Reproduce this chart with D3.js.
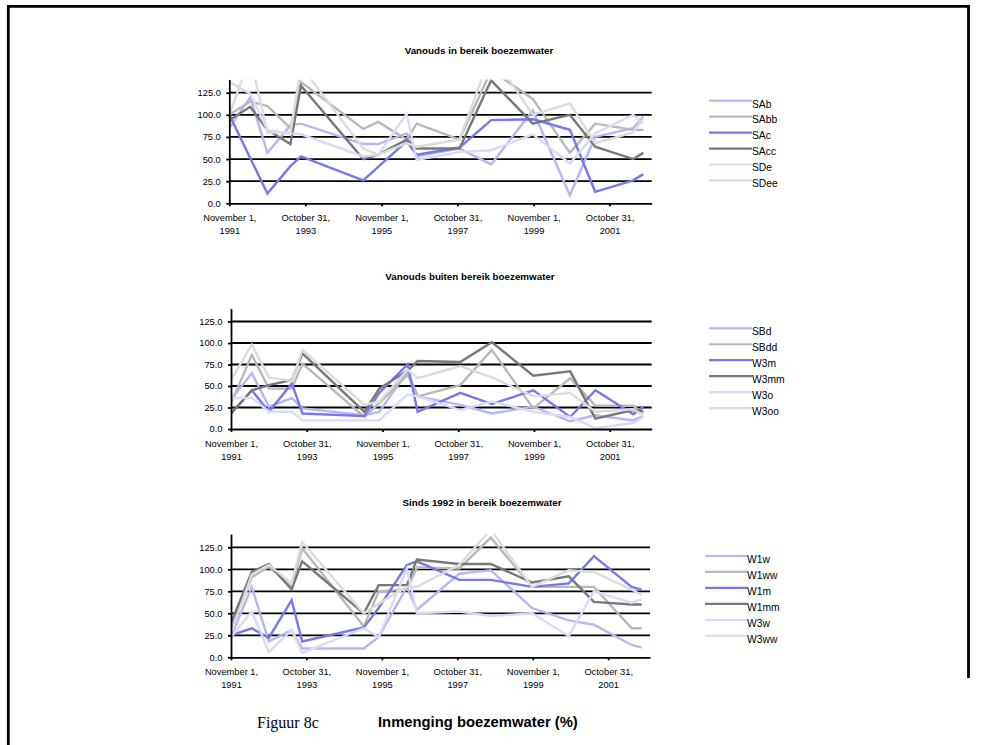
<!DOCTYPE html>
<html>
<head>
<meta charset="utf-8">
<script src="https://cdn.jsdelivr.net/npm/d3@7"></script>
<style>
  html, body { margin: 0; padding: 0; background: #fff; }
  svg { display: block; }
</style>
</head>
<body>
<svg id="chart" width="984" height="745"></svg>
<script>
// Sampling dates shared by every series (Excel date axis)
const dates = ["1991-11-01","1992-05-20","1992-11-01","1993-06-10","1993-09-20","1995-05-10","1995-10-01","1996-06-30","1996-10-05","1997-11-20","1998-09-20","1999-10-25","2000-10-15","2001-06-15","2002-06-15","2002-09-20"];

// Axis ticks
const yTicks = [0, 25, 50, 75, 100, 125];
const tickDates = ["1991-11-01","1993-10-31","1995-11-01","1997-10-31","1999-11-01","2001-10-31"];
const tickLabels = [["November 1,","1991"],["October 31,","1993"],["November 1,","1995"],["October 31,","1997"],["November 1,","1999"],["October 31,","2001"]];

// Panel titles
const titles = ["Vanouds in bereik boezemwater", "Vanouds buiten bereik boezemwater", "Sinds 1992 in bereik boezemwater"];

// Series names per panel
const names1 = ["SAb","SAbb","SAc","SAcc","SDe","SDee"];
const names2 = ["SBd","SBdd","W3m","W3mm","W3o","W3oo"];
const names3 = ["W1w","W1ww","W1m","W1mm","W3w","W3ww"];

// Panel 1: Vanouds in bereik boezemwater (%)
const SAb  = [85, 120, 57, 88, 90, 67, 67, 79, 53, 62, 44, 105, 9, 75, 85, 98];
const SAbb = [100, 115, 110, 85, 137, 84, 92, 72, 90, 72, 150, 118, 57, 90, 83, 83];
const SAc  = [100, null, 11, 42, 53, 26, null, 70, 55, 63, 94, 95, 83, 13, 26, 33];
const SAcc = [94, 109, 83, 67, 133, 50, 55, 72, 62, 62, 139, 90, 100, 64, 50, 57];
const SDe  = [137, 124, 83, 79, 78, 53, 55, 101, 49, 58, 60, 78, 45, 79, 100, 90];
const SDee = [100, 165, 80, 80, 155, 62, 55, 68, 64, 72, 170, 100, 113, 68, 80, 96];

// Panel 2: Vanouds buiten bereik boezemwater (%)
const SBd  = [34, 65, 26, 36, 24, 16, 20, 67, 38, 28, 18, 26, 9, 16, 10, 15];
const SBdd = [30, 86, 47, 47, 76, 14, 30, 63, 38, 51, 92, 24, 59, 27, 27, 18];
const W3m  = [18, 45, 20, 53, 18, 15, 42, 75, 20, 42, 29, 45, 14, 45, 17, 26];
const W3mm = [18, 45, 51, 57, 88, 20, 47, 68, 79, 78, 101, 62, 67, 12, 22, 21];
const W3o  = [36, 36, 20, 20, 10, 10, 10, 40, 38, 22, 32, 20, 14, 1, 7, 14];
const W3oo = [57, 98, 60, 56, 92, 28, 32, 69, 59, 73, 60, 38, 42, 20, 23, 16];

// Panel 3: Sinds 1992 in bereik boezemwater (%)
const W1w  = [23, 80, 18, 31, 10, 10, 23, 80, 54, 95, 99, 56, 42, 37, 14, 11];
const W1ww = [31, 91, 103, 80, 124, 35, 75, 77, 102, 101, 136, 80, 80, 80, 33, 33];
const W1m  = [25, 33, 22, 65, 18, 34, 56, 105, 109, 88, 88, 80, 84, 115, 80, 77];
const W1mm = [39, 97, 106, 77, 109, 50, 82, 82, 111, 106, 106, 85, 92, 63, 60, 60];
const W3w  = [23, 52, 6, 31, 5, 33, 23, 101, 50, 52, 47, 50, 24, 75, 62, 66];
const W3ww = [27, 94, 105, 84, 131, 50, 61, 80, 80, 105, 145, 80, 99, 97, 77, 71];

const seriesColors = ["#b6b6f6", "#b8b8b8", "#7878ee", "#787878", "#dadaf8", "#dcdcdc"];

const SANS = "'Liberation Sans', Arial, sans-serif";
const SERIF = "'Liberation Serif', 'Times New Roman', serif";

const parse = d3.timeParse("%Y-%m-%d");
const dateObjs = dates.map(parse);
const tickDateObjs = tickDates.map(parse);

const panels = [
  { title: titles[0], titleX: 479, titleY: 54, left: 229.3, right: 651.7, y0: 203.3, unit: 22.12,
    legX: 709, legW: 43, legY: 100.7, names: names1, data: [SAb, SAbb, SAc, SAcc, SDe, SDee] },
  { title: titles[1], titleX: 470, titleY: 280, left: 231, right: 651.7, y0: 429, unit: 21.5,
    legX: 709, legW: 43, legY: 328.3, names: names2, data: [SBd, SBdd, W3m, W3mm, W3o, W3oo] },
  { title: titles[2], titleX: 482, titleY: 506, left: 231, right: 650, y0: 657.3, unit: 22.0,
    legX: 705, legW: 42, legY: 556, names: names3, data: [W1w, W1ww, W1m, W1mm, W3w, W3ww] }
];

const svg = d3.select("#chart");

// Page frame
svg.append("path").attr("d", "M8.3,745 V6.3 H968.5 V678")
  .attr("fill", "none").attr("stroke", "#000").attr("stroke-width", 2.8);

const xDomain = [parse("1991-11-01"), parse("2002-12-10")];

panels.forEach((p, pi) => {
  const yMax = 140;
  const x = d3.scaleTime().domain(xDomain).range([p.left, p.right]);
  const y = d3.scaleLinear().domain([0, yMax]).range([p.y0, p.y0 - yMax * p.unit / 25]);
  const g = svg.append("g");

  // title
  g.append("text").attr("x", p.titleX).attr("y", p.titleY)
    .attr("text-anchor", "middle").style("font-family", SANS).style("font-size", "9.8px").style("font-weight", "bold")
    .text(p.title);

  // gridlines
  g.append("g").selectAll("line").data(yTicks.filter(v => v > 0)).join("line")
    .attr("x1", p.left).attr("x2", p.right)
    .attr("y1", d => y(d)).attr("y2", d => y(d))
    .attr("stroke", "#000").attr("stroke-width", 1.8);

  // clip the series to the plot area
  const clipId = "clip" + pi;
  svg.append("clipPath").attr("id", clipId).append("rect")
    .attr("x", p.left).attr("y", y(yMax)).attr("width", p.right - p.left).attr("height", p.y0 - y(yMax));

  const line = d3.line().x(d => x(d.t)).y(d => y(d.v));

  const lines = g.append("g").attr("clip-path", `url(#${clipId})`);
  p.data.forEach((vals, si) => {
    const pts = vals.map((v, i) => ({ t: dateObjs[i], v })).filter(d => d.v !== null);
    lines.append("path").datum(pts)
      .attr("d", line)
      .attr("fill", "none")
      .attr("stroke", seriesColors[si])
      .attr("stroke-width", 2.4)
      .attr("stroke-linejoin", "miter");
  });

  // y axis
  const yAxis = d3.axisLeft(y).tickValues(yTicks).tickFormat(d3.format(".1f")).tickSize(3).tickSizeOuter(0).tickPadding(5.5);
  const ya = g.append("g").attr("transform", `translate(${p.left},0)`).call(yAxis);
  ya.select(".domain").attr("stroke", "#000").attr("stroke-width", 1.8);
  ya.selectAll(".tick line").attr("stroke", "#000").attr("stroke-width", 1.8);
  ya.selectAll(".tick text").style("font-family", SANS).style("font-size", "9.3px").attr("fill", "#000");

  // x axis
  const xAxis = d3.axisBottom(x).tickValues(tickDateObjs).tickFormat((d, i) => tickLabels[i][0]).tickSize(3).tickSizeOuter(0).tickPadding(8);
  const xa = g.append("g").attr("transform", `translate(0,${p.y0})`).call(xAxis);
  xa.select(".domain").attr("stroke", "#000").attr("stroke-width", 1.8);
  xa.selectAll(".tick line").attr("stroke", "#000").attr("stroke-width", 1.8);
  xa.selectAll(".tick text").each(function(d, i) {
    const t = d3.select(this);
    t.text(null).style("font-family", SANS).style("font-size", "9.3px").attr("fill", "#000");
    t.append("tspan").attr("x", 0).attr("dy", "0.71em").text(tickLabels[i][0]);
    t.append("tspan").attr("x", 0).attr("dy", "1.42em").text(tickLabels[i][1]);
  }).attr("dy", null);

  // legend
  const leg = g.append("g");
  p.names.forEach((n, si) => {
    const ly = p.legY + si * 15.95;
    leg.append("line").attr("x1", p.legX).attr("x2", p.legX + p.legW)
      .attr("y1", ly).attr("y2", ly).attr("stroke", seriesColors[si]).attr("stroke-width", 2.2);
    leg.append("text").attr("x", p.legX + p.legW).attr("y", ly + 6.8)
      .style("font-family", SANS).style("font-size", "10.3px").attr("fill", "#000").text(n);
  });
});

// caption
svg.append("text").attr("x", 257).attr("y", 727.5)
  .style("font-family", SERIF).style("font-size", "16px").attr("fill", "#000").text("Figuur 8c");
svg.append("text").attr("x", 378).attr("y", 727)
  .style("font-family", SANS).style("font-size", "14.8px").style("font-weight", "bold").attr("fill", "#000")
  .text("Inmenging boezemwater (%)");
</script>
</body>
</html>
